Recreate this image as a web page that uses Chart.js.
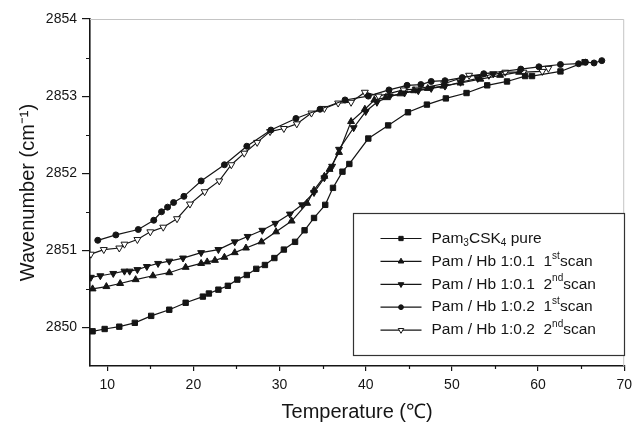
<!DOCTYPE html>
<html>
<head>
<meta charset="utf-8">
<script src="https://cdn.jsdelivr.net/npm/chart.js@4.4.0/dist/chart.umd.min.js"></script>
<style>
  html, body { margin: 0; padding: 0; background: #fff; }
</style>
</head>
<body>
<canvas id="canvas" width="638" height="424"></canvas>
<script>

// DATA

const seriesLabels = [
  'Pam_{3}CSK_{4} pure',
  'Pam / Hb 1:0.1  1^{st}scan',
  'Pam / Hb 1:0.1  2^{nd}scan',
  'Pam / Hb 1:0.2  1^{st}scan',
  'Pam / Hb 1:0.2  2^{nd}scan'
]

const pureTemp = [8.3, 9.7, 11.4, 13.2, 15.1, 17.2, 19.1, 21.1, 21.8, 22.9, 24.0, 25.1, 26.2, 27.3, 28.3, 29.4, 30.5, 31.8, 32.9, 34.0, 35.3, 36.2, 37.3, 38.1, 40.3, 42.6, 44.9, 47.1, 49.3, 51.7, 54.1, 56.4, 58.5, 59.3, 62.6, 65.4]
const pureWn = [2849.95, 2849.98, 2850.01, 2850.06, 2850.15, 2850.23, 2850.32, 2850.40, 2850.44, 2850.49, 2850.54, 2850.62, 2850.68, 2850.76, 2850.81, 2850.90, 2851.01, 2851.11, 2851.26, 2851.42, 2851.59, 2851.81, 2852.02, 2852.12, 2852.45, 2852.62, 2852.79, 2852.89, 2852.97, 2853.04, 2853.14, 2853.19, 2853.26, 2853.26, 2853.32, 2853.44]

const hb01aTemp = [8.3, 9.9, 11.5, 13.3, 15.3, 17.2, 19.1, 20.9, 21.6, 22.5, 23.6, 24.8, 26.1, 27.9, 29.6, 31.4, 33.2, 34.0, 35.2, 35.8, 36.9, 38.3, 39.9, 41.0, 42.3, 44.0, 45.6, 47.2, 49.0, 51.0, 53.3, 55.6, 57.8]
const hb01aWn = [2850.50, 2850.53, 2850.57, 2850.62, 2850.67, 2850.71, 2850.78, 2850.83, 2850.85, 2850.87, 2850.91, 2850.97, 2851.03, 2851.11, 2851.24, 2851.38, 2851.61, 2851.78, 2851.96, 2852.05, 2852.27, 2852.67, 2852.83, 2852.95, 2852.98, 2853.03, 2853.07, 2853.10, 2853.13, 2853.17, 2853.22, 2853.27, 2853.31]

const hb01bTemp = [8.1, 9.2, 10.7, 12.0, 12.6, 13.5, 14.6, 15.9, 17.2, 18.8, 20.9, 22.9, 24.8, 26.3, 28.0, 29.5, 31.2, 32.6, 34.0, 35.2, 36.1, 36.9, 38.6, 40.0, 41.3, 42.8, 44.5, 46.1, 47.6, 49.2, 51.0, 53.0, 54.8]
const hb01bWn = [2850.65, 2850.67, 2850.70, 2850.73, 2850.73, 2850.75, 2850.79, 2850.83, 2850.86, 2850.90, 2850.97, 2851.01, 2851.11, 2851.18, 2851.26, 2851.35, 2851.47, 2851.59, 2851.75, 2851.94, 2852.09, 2852.31, 2852.59, 2852.80, 2852.92, 2853.00, 2853.04, 2853.07, 2853.10, 2853.13, 2853.18, 2853.23, 2853.29]

const hb02aTemp = [8.9, 11.0, 13.6, 15.4, 16.3, 17.0, 17.7, 18.9, 20.9, 23.6, 26.2, 29.0, 31.9, 34.7, 37.6, 40.3, 42.7, 44.8, 46.4, 47.6, 49.2, 51.2, 53.7, 58.0, 60.1, 62.6, 64.7, 65.5, 66.5, 67.4]
const hb02aWn = [2851.13, 2851.20, 2851.27, 2851.39, 2851.50, 2851.56, 2851.62, 2851.70, 2851.90, 2852.11, 2852.35, 2852.56, 2852.71, 2852.83, 2852.95, 2853.00, 2853.08, 2853.14, 2853.15, 2853.19, 2853.20, 2853.24, 2853.29, 2853.35, 2853.38, 2853.41, 2853.42, 2853.44, 2853.43, 2853.46]

const hb02bTemp = [8.1, 9.6, 11.4, 12.0, 13.5, 15.0, 16.5, 18.1, 19.6, 21.3, 23.0, 24.4, 25.9, 27.4, 28.9, 30.5, 32.0, 33.7, 35.2, 36.8, 38.3, 39.9, 41.5, 44.4, 45.8, 49.1, 52.0, 54.3, 56.2, 58.3, 60.5, 61.2]
const hb02bWn = [2850.95, 2851.01, 2851.03, 2851.08, 2851.14, 2851.24, 2851.30, 2851.41, 2851.60, 2851.76, 2851.90, 2852.11, 2852.26, 2852.40, 2852.54, 2852.58, 2852.64, 2852.78, 2852.84, 2852.91, 2852.92, 2853.05, 2853.00, 2853.08, 2853.09, 2853.16, 2853.27, 2853.27, 2853.31, 2853.31, 2853.32, 2853.36]

const xTicks = [10, 20, 30, 40, 50, 60, 70]
const xMinor = [15, 25, 35, 45, 55, 65]
const yTicks = [2850, 2851, 2852, 2853, 2854]
const yMinor = [2850.5, 2851.5, 2852.5, 2853.5]

// STYLE

const FONT = '"Liberation Sans", Arial, Helvetica, sans-serif'
const INK = '#151515'

const pts = (xs, ys) => xs.map((x, i) => ({x: x, y: ys[i]}))
const plain = s => s.replace(/[_^]\{([^}]*)\}/g, '$1')

const markers = [
  {pointStyle: 'rect', rotation: 0, radius: 3.8, fill: INK},
  {pointStyle: 'triangle', rotation: 0, radius: 4, fill: INK},
  {pointStyle: 'triangle', rotation: 180, radius: 4, fill: INK},
  {pointStyle: 'circle', rotation: 0, radius: 3, fill: INK},
  {pointStyle: 'triangle', rotation: 180, radius: 4, fill: '#fff'}
]

const seriesData = [
  pts(pureTemp, pureWn),
  pts(hb01aTemp, hb01aWn),
  pts(hb01bTemp, hb01bWn),
  pts(hb02aTemp, hb02aWn),
  pts(hb02bTemp, hb02bWn)
]

const datasets = seriesData.map((d, i) => ({
  label: plain(seriesLabels[i]),
  data: d,
  borderColor: INK,
  borderWidth: 1.2,
  backgroundColor: markers[i].fill,
  pointBackgroundColor: markers[i].fill,
  pointBorderColor: INK,
  pointBorderWidth: 1,
  pointStyle: markers[i].pointStyle,
  pointRotation: markers[i].rotation,
  pointRadius: markers[i].radius,
  tension: 0
}))

// text with _{sub} and ^{sup}
function drawRich(ctx, str, x, y, size) {
  const parts = str.split(/(_\{[^}]*\}|\^\{[^}]*\})/).filter(Boolean)
  parts.forEach(p => {
    let txt = p, fs = size, dy = 0
    if (p[0] === '_') { txt = p.slice(2, -1); fs = Math.round(size * 0.66); dy = size * 0.32 }
    else if (p[0] === '^') { txt = p.slice(2, -1); fs = Math.round(size * 0.66); dy = -size * 0.36 }
    ctx.font = fs + 'px ' + FONT
    ctx.fillText(txt, x, y + dy)
    x += ctx.measureText(txt).width
  })
}

//FRAME, MINOR TICKS AND LEGEND

const extras = {
  id: 'extras',
  beforeDatasetsDraw(chart) {
    const {ctx, chartArea: a} = chart
    ctx.save()
    ctx.strokeStyle = '#c4c4c4'
    ctx.lineWidth = 1
    ctx.beginPath()
    ctx.moveTo(a.left, a.top + 0.5)
    ctx.lineTo(a.right - 0.5, a.top + 0.5)
    ctx.lineTo(a.right - 0.5, a.bottom)
    ctx.stroke()
    ctx.restore()
  },
  afterDraw(chart) {
    const {ctx, chartArea: a} = chart
    const x = chart.scales.x, y = chart.scales.y
    ctx.save()
    ctx.strokeStyle = INK
    ctx.lineWidth = 1.2
    ctx.beginPath()
    xMinor.forEach(v => {
      const px = Math.round(x.getPixelForValue(v)) + 0.5
      ctx.moveTo(px, a.bottom)
      ctx.lineTo(px, a.bottom + 3)
    })
    yMinor.forEach(v => {
      const py = Math.round(y.getPixelForValue(v)) + 0.5
      ctx.moveTo(a.left, py)
      ctx.lineTo(a.left - 4, py)
    })
    ctx.stroke()

    // legend box
    const bx = 353.5, by = 213.5, bw = 271, bh = 142
    ctx.fillStyle = '#fff'
    ctx.fillRect(bx, by, bw, bh)
    ctx.strokeStyle = '#333'
    ctx.lineWidth = 1.2
    ctx.strokeRect(bx, by, bw, bh)

    seriesLabels.forEach((lab, i) => {
      const ry = by + 25 + i * 22.9
      ctx.strokeStyle = INK
      ctx.lineWidth = 1.2
      ctx.beginPath()
      ctx.moveTo(bx + 27, ry)
      ctx.lineTo(bx + 68, ry)
      ctx.stroke()
      const m = markers[i]
      ctx.fillStyle = m.fill
      ctx.strokeStyle = INK
      ctx.lineWidth = 1
      Chart.helpers.drawPoint(ctx, {pointStyle: m.pointStyle, rotation: m.rotation, radius: m.radius * 0.8, borderWidth: 1}, bx + 47.5, ry)
      ctx.fillStyle = INK
      ctx.textBaseline = 'middle'
      ctx.textAlign = 'left'
      drawRich(ctx, lab, bx + 78, ry, 15.5)
    })
    ctx.restore()
  }
}

//CHART

const ctx = document.getElementById('canvas').getContext('2d')
window.myLine = new Chart(ctx, {
  type: 'line',
  data: { datasets: datasets },
  options: {
    responsive: false,
    animation: false,
    layout: { padding: { top: 19, right: 9, left: 0, bottom: 0 } },
    plugins: {
      legend: { display: false },
      tooltip: { enabled: false }
    },
    scales: {
      x: {
        type: 'linear',
        min: 8,
        max: 70,
        afterBuildTicks: s => { s.ticks = xTicks.map(v => ({value: v})) },
        afterFit: s => { s.height = 58 },
        border: { color: INK, width: 1.6 },
        grid: { drawOnChartArea: false, color: INK, lineWidth: 1.2, tickLength: 5 },
        ticks: { color: INK, padding: 6, font: { family: FONT, size: 14 }, maxRotation: 0 },
        title: { display: true, text: 'Temperature (\u2103)', color: INK, padding: 0, font: { family: FONT, size: 20 } }
      },
      y: {
        type: 'linear',
        min: 2849.5,
        max: 2854,
        afterBuildTicks: s => { s.ticks = yTicks.map(v => ({value: v})) },
        afterFit: s => { s.width = 90 },
        border: { color: INK, width: 1.6 },
        grid: { drawOnChartArea: false, color: INK, lineWidth: 1.2, tickLength: 8 },
        ticks: { color: INK, padding: 5, font: { family: FONT, size: 14 }, callback: v => String(v) },
        title: { display: true, text: 'Wavenumber (cm\u207B\u00B9)', color: INK, padding: { top: 16, bottom: 0 }, font: { family: FONT, size: 20 } }
      }
    }
  },
  plugins: [extras]
})
</script>
</body>
</html>
